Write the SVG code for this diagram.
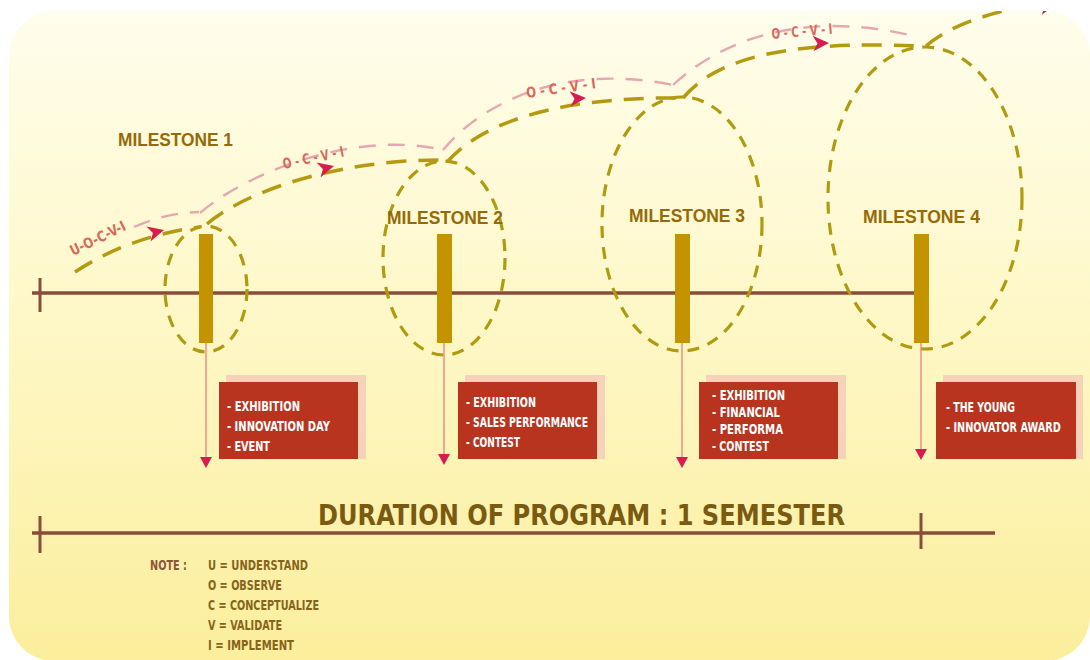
<svg xmlns="http://www.w3.org/2000/svg" width="1090" height="660" viewBox="0 0 1090 660">
  <defs>
    <linearGradient id="card-fill" x1="0" y1="0" x2="0" y2="1">
      <stop offset="0" stop-color="#fffdec"/>
      <stop offset="0.45" stop-color="#fef8c9"/>
      <stop offset="1" stop-color="#fbee9c"/>
    </linearGradient>
    <clipPath id="card-clip">
      <rect x="9" y="11" width="1081" height="650" rx="45"/>
    </clipPath>
    <!-- stealth arrowhead, tip at the origin pointing right -->
    <path id="flow-head" d="M0 0 L-16 -8 L-11.5 0 L-16 7.5 Z"/>
    <!-- drop arrowhead, tip at the origin pointing down -->
    <path id="drop-head" d="M-6 -11 L6 -11 L0 0 Z"/>
    <style>
      .axis { stroke: #8a4d3b; stroke-width: 3.5; fill: none; }
      .tick { stroke: #8a4d3b; stroke-width: 3; }
      .bar { fill: #c39400; }
      .cycle { fill: none; stroke: #b09a10; stroke-width: 3.2; stroke-dasharray: 12 9; }
      .path-main { fill: none; stroke: #b39a10; stroke-width: 3.5; stroke-dasharray: 20 12; }
      .path-ghost { fill: none; stroke: #e7a7b0; stroke-width: 2.4; stroke-dasharray: 17 12; }
      .flow-head { fill: #d61d4f; }
      .drop-line { stroke: #e58a80; stroke-width: 1.4; }
      .drop-head { fill: #d61d4f; }
      .step { font-family: "Liberation Sans Narrow", "DejaVu Sans Condensed", "Liberation Sans", sans-serif; font-weight: bold; font-size: 14.5px; fill: #d8685a; }
      .ms-title { font-family: "Liberation Sans", Arial, sans-serif; font-weight: bold; font-size: 18px; fill: #966a08; }
      .box-back { fill: #f6d3b8; }
      .box { fill: #b8341f; }
      .box-text { font-family: "Liberation Sans Narrow", "DejaVu Sans Condensed", "Liberation Sans", sans-serif; font-weight: bold; font-size: 14.5px; fill: #ffffff; }
      .duration { font-family: "Liberation Sans Narrow", "DejaVu Sans Condensed", "Liberation Sans", sans-serif; font-weight: bold; font-size: 28px; fill: #7a5a10; }
      .note-key { font-family: "Liberation Sans Narrow", "DejaVu Sans Condensed", "Liberation Sans", sans-serif; font-weight: bold; font-size: 14px; fill: #8a573c; }
      .note { font-family: "Liberation Sans Narrow", "DejaVu Sans Condensed", "Liberation Sans", sans-serif; font-weight: bold; font-size: 14px; fill: #86641c; }
    </style>
  </defs>

  <!-- page and card -->
  <rect x="0" y="0" width="1090" height="660" fill="#ffffff"/>
  <rect x="9" y="11" width="1081" height="650" rx="45" fill="url(#card-fill)"/>

  <g clip-path="url(#card-clip)">
    <!-- main timeline -->
    <g id="timeline">
      <line class="axis" x1="32" y1="293" x2="915" y2="293"/>
      <line class="tick" x1="40" y1="278" x2="40" y2="312"/>
    </g>

    <!-- milestone 1 -->
    <g id="milestone-1">
      <ellipse class="cycle" cx="206" cy="289" rx="41" ry="63"/>
      <rect class="bar" x="199" y="234" width="14" height="109"/>
      <text class="ms-title" x="118" y="146" textLength="115" lengthAdjust="spacingAndGlyphs">MILESTONE 1</text>
      <rect class="box-back" x="226" y="375" width="140" height="84"/>
      <rect class="box" x="219" y="382" width="139" height="77"/>
      <text class="box-text" x="227" y="411" textLength="73" lengthAdjust="spacingAndGlyphs">- EXHIBITION</text>
      <text class="box-text" x="227" y="431" textLength="103" lengthAdjust="spacingAndGlyphs">- INNOVATION DAY</text>
      <text class="box-text" x="227" y="451" textLength="43" lengthAdjust="spacingAndGlyphs">- EVENT</text>
    </g>

    <!-- milestone 2 -->
    <g id="milestone-2">
      <ellipse class="cycle" cx="444" cy="258" rx="61" ry="97"/>
      <rect class="bar" x="437" y="234" width="15" height="109"/>
      <text class="ms-title" x="387" y="224" textLength="116" lengthAdjust="spacingAndGlyphs">MILESTONE 2</text>
      <rect class="box-back" x="465" y="375" width="140" height="84"/>
      <rect class="box" x="458" y="382" width="139" height="77"/>
      <text class="box-text" x="466" y="407" textLength="70" lengthAdjust="spacingAndGlyphs">- EXHIBITION</text>
      <text class="box-text" x="466" y="427" textLength="122" lengthAdjust="spacingAndGlyphs">- SALES PERFORMANCE</text>
      <text class="box-text" x="466" y="447" textLength="54" lengthAdjust="spacingAndGlyphs">- CONTEST</text>
    </g>

    <!-- milestone 3 -->
    <g id="milestone-3">
      <ellipse class="cycle" cx="682" cy="224" rx="80" ry="127"/>
      <rect class="bar" x="675" y="234" width="15" height="109"/>
      <text class="ms-title" x="629" y="222" textLength="116" lengthAdjust="spacingAndGlyphs">MILESTONE 3</text>
      <rect class="box-back" x="706" y="375" width="140" height="84"/>
      <rect class="box" x="699" y="382" width="139" height="77"/>
      <text class="box-text" x="712" y="400" textLength="73" lengthAdjust="spacingAndGlyphs">- EXHIBITION</text>
      <text class="box-text" x="712" y="417" textLength="68" lengthAdjust="spacingAndGlyphs">- FINANCIAL</text>
      <text class="box-text" x="712" y="434" textLength="71" lengthAdjust="spacingAndGlyphs">- PERFORMA</text>
      <text class="box-text" x="712" y="451" textLength="57" lengthAdjust="spacingAndGlyphs">- CONTEST</text>
    </g>

    <!-- milestone 4 (text drawn in a horizontally narrowed frame) -->
    <g id="milestone-4">
      <ellipse class="cycle" cx="925" cy="198" rx="97" ry="151"/>
      <rect class="bar" x="914" y="234" width="15" height="109"/>
      <text class="ms-title" x="863" y="223" textLength="117" lengthAdjust="spacingAndGlyphs">MILESTONE 4</text>
      <rect class="box-back" x="943" y="375" width="140" height="84"/>
      <rect class="box" x="936" y="382" width="140" height="77"/>
      <text class="box-text" transform="translate(946 412) scale(0.75 1)" textLength="92" lengthAdjust="spacingAndGlyphs">- THE YOUNG</text>
      <text class="box-text" transform="translate(946 432) scale(0.75 1)" textLength="153" lengthAdjust="spacingAndGlyphs">- INNOVATOR AWARD</text>
    </g>

    <!-- connectors: learning loops between milestones and drops to the activity boxes -->
    <g id="connectors">
      <path class="path-ghost" d="M134 227 Q165 213 199 212"/>
      <path class="path-ghost" d="M200 213 C250 170 360 130 443 150"/>
      <path class="path-ghost" d="M443 150 C480 105 560 62 673 85"/>
      <path class="path-ghost" d="M673 85 C710 50 790 5 918 37"/>

      <path class="path-main" d="M75 272 Q130 236 200 227"/>
      <path class="path-main" d="M207 224 C240 195 330 160 440 160"/>
      <path class="path-main" d="M447 162 C475 130 540 97 677 98"/>
      <path class="path-main" d="M683 98 C715 60 780 40 920 46"/>
      <path class="path-main" d="M926 46 C950 25 990 12 1045 2"/>

      <use href="#flow-head" class="flow-head" transform="translate(164 230) rotate(-15)"/>
      <use href="#flow-head" class="flow-head" transform="translate(334 166) rotate(-15)"/>
      <use href="#flow-head" class="flow-head" transform="translate(586 98) rotate(-4)"/>
      <use href="#flow-head" class="flow-head" transform="translate(829 43) rotate(-3)"/>
      <use href="#flow-head" class="flow-head" transform="translate(1056 4) rotate(-12)"/>

      <text class="step" transform="translate(73 256) rotate(-26)" textLength="60" lengthAdjust="spacingAndGlyphs">U-O-C-V-I</text>
      <text class="step" transform="translate(284 169) rotate(-12)" textLength="62" lengthAdjust="spacingAndGlyphs">O - C - V - I</text>
      <text class="step" transform="translate(527 98) rotate(-8)" textLength="70" lengthAdjust="spacingAndGlyphs">O - C - V - I</text>
      <text class="step" transform="translate(772 39) rotate(-5)" textLength="61" lengthAdjust="spacingAndGlyphs">O - C - V - I</text>

      <line class="drop-line" x1="206" y1="343" x2="206" y2="459"/>
      <line class="drop-line" x1="444" y1="343" x2="444" y2="459"/>
      <line class="drop-line" x1="682" y1="343" x2="682" y2="459"/>
      <line class="drop-line" x1="921" y1="343" x2="921" y2="451"/>
      <use href="#drop-head" class="drop-head" transform="translate(206 468)"/>
      <use href="#drop-head" class="drop-head" transform="translate(444 465)"/>
      <use href="#drop-head" class="drop-head" transform="translate(682 468)"/>
      <use href="#drop-head" class="drop-head" transform="translate(921 460)"/>
    </g>

    <!-- programme duration -->
    <g id="duration">
      <text class="duration" x="318" y="525" textLength="527" lengthAdjust="spacingAndGlyphs">DURATION OF PROGRAM : 1 SEMESTER</text>
      <line class="axis" x1="32" y1="533" x2="995" y2="533"/>
      <line class="tick" x1="40" y1="516" x2="40" y2="553"/>
      <line class="tick" x1="921" y1="513" x2="921" y2="549"/>
    </g>

    <!-- legend -->
    <g id="legend">
      <text class="note-key" x="150" y="570" textLength="37" lengthAdjust="spacingAndGlyphs">NOTE :</text>
      <text class="note" x="208" y="570" textLength="100" lengthAdjust="spacingAndGlyphs">U = UNDERSTAND</text>
      <text class="note" x="208" y="590" textLength="74" lengthAdjust="spacingAndGlyphs">O = OBSERVE</text>
      <text class="note" x="208" y="610" textLength="111" lengthAdjust="spacingAndGlyphs">C = CONCEPTUALIZE</text>
      <text class="note" x="208" y="630" textLength="74" lengthAdjust="spacingAndGlyphs">V = VALIDATE</text>
      <text class="note" x="208" y="650" textLength="86" lengthAdjust="spacingAndGlyphs">I = IMPLEMENT</text>
    </g>
  </g>
</svg>
